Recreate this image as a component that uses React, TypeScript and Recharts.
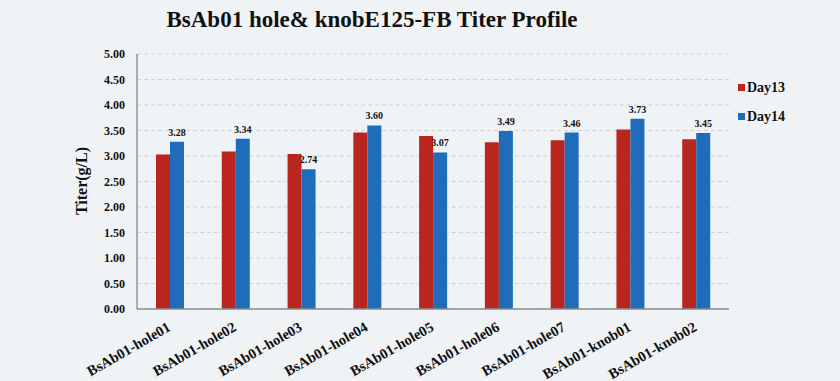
import { Bar, BarChart, CartesianGrid, LabelList, XAxis, YAxis } from "recharts";

const categories = [
  "BsAb01-hole01",
  "BsAb01-hole02",
  "BsAb01-hole03",
  "BsAb01-hole04",
  "BsAb01-hole05",
  "BsAb01-hole06",
  "BsAb01-hole07",
  "BsAb01-knob01",
  "BsAb01-knob02",
];
const day13 = [3.03, 3.09, 3.04, 3.46, 3.39, 3.27, 3.31, 3.52, 3.33];
const day14 = [3.28, 3.34, 2.74, 3.6, 3.07, 3.49, 3.46, 3.73, 3.45];
const yTicks = [0, 0.5, 1, 1.5, 2, 2.5, 3, 3.5, 4, 4.5, 5];

const data = categories.map((name, i) => ({ name, day13: day13[i], day14: day14[i] }));

const font = '"Liberation Serif", "Times New Roman", serif';
const RED = "#b92620";
const BLUE = "#1f6cba";

function XTick({ x, y, payload }: any) {
  return (
    <g transform={`translate(${x},${y + 10})`}>
      <text
        transform="rotate(-30)"
        textAnchor="end"
        dominantBaseline="middle"
        fontFamily={font}
        fontWeight="bold"
        fontSize={14.5}
        fill="#111"
      >
        {payload.value}
      </text>
    </g>
  );
}

const legendItems = [
  { label: "Day13", c: RED },
  { label: "Day14", c: BLUE },
];

export default function App() {
  return (
    <div
      style={{
        position: "fixed",
        left: 0,
        top: 0,
        width: 840,
        height: 381,
        background: "#eff3f6",
      }}
    >
      <div
        style={{
          position: "absolute",
          left: 0,
          width: 744,
          top: 7,
          textAlign: "center",
          fontFamily: font,
          fontWeight: "bold",
          fontSize: 23,
          color: "#111",
        }}
      >
        BsAb01 hole&amp; knobE125-FB Titer Profile
      </div>
      <div
        style={{
          position: "absolute",
          left: 82,
          top: 181,
          transform: "translate(-50%,-50%) rotate(-90deg)",
          fontFamily: font,
          fontWeight: "bold",
          fontSize: 16,
          color: "#111",
          whiteSpace: "nowrap",
        }}
      >
        Titer(g/L)
      </div>
      <div
        style={{
          position: "absolute",
          left: 738,
          top: 73,
          fontFamily: font,
          fontWeight: "bold",
          fontSize: 14,
          color: "#111",
        }}
      >
        {legendItems.map((it) => (
          <div key={it.label} style={{ display: "flex", alignItems: "center", height: 29 }}>
            <span
              style={{ width: 7, height: 7, background: it.c, marginRight: 2, display: "inline-block" }}
            />
            {it.label}
          </div>
        ))}
      </div>
      <BarChart
        width={840}
        height={381}
        data={data}
        margin={{ top: 54, right: 111, bottom: 0, left: 77 }}
        barGap={0}
        barSize={14}
        style={{ position: "absolute", left: 0, top: 0 }}
      >
        <CartesianGrid vertical={false} stroke="#cfd3d6" strokeDasharray="4 3" />
        <XAxis
          dataKey="name"
          interval={0}
          tick={<XTick />}
          tickLine={false}
          axisLine={{ stroke: "#8c8c8c", strokeWidth: 1.5 }}
          height={72}
        />
        <YAxis
          width={60}
          domain={[0, 5]}
          ticks={yTicks}
          tickFormatter={(v: number) => v.toFixed(2)}
          tick={{ fontFamily: font, fontWeight: "bold", fontSize: 12, fill: "#111" }}
          tickLine={false}
          axisLine={{ stroke: "#666" }}
          tickMargin={6}
        />
        <Bar dataKey="day13" name="Day13" fill={RED} isAnimationActive={false} />
        <Bar dataKey="day14" name="Day14" fill={BLUE} isAnimationActive={false}>
          <LabelList
            dataKey="day14"
            position="top"
            offset={6}
            formatter={(v: any) => Number(v).toFixed(2)}
            style={{ fontFamily: font, fontWeight: "bold", fontSize: 10, fill: "#111" }}
          />
        </Bar>
      </BarChart>
    </div>
  );
}
